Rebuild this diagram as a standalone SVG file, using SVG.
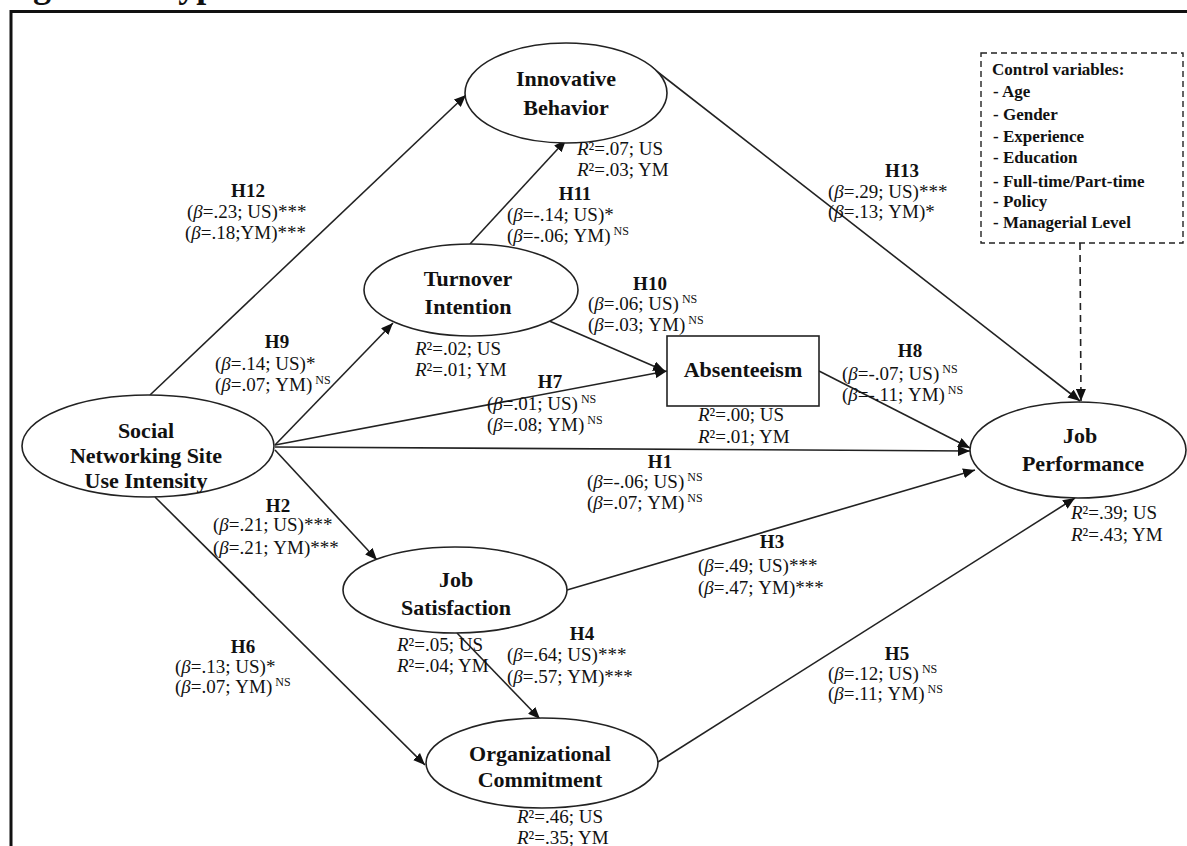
<svg xmlns="http://www.w3.org/2000/svg" width="1187" height="846" viewBox="0 0 1187 846">
<defs>
<marker id="ah" markerUnits="userSpaceOnUse" markerWidth="12" markerHeight="10" refX="12" refY="5" orient="auto">
<path d="M0,0 L12,5 L0,10 z" fill="#111"/>
</marker>
<style>
.node{fill:#fff;stroke:#222;stroke-width:1.6}
.nt{font-family:"Liberation Serif","Times New Roman",serif;font-weight:bold;font-size:22px;fill:#111;text-anchor:middle}
.lb{font-family:"Liberation Serif","Times New Roman",serif;font-size:19px;fill:#111}
.hb{font-family:"Liberation Serif","Times New Roman",serif;font-size:19px;font-weight:bold;fill:#111;text-anchor:middle}
.i{font-style:italic}
.sup{font-size:12px}
.cv{font-family:"Liberation Serif","Times New Roman",serif;font-size:17px;font-weight:bold;fill:#111}
.con{fill:none;stroke:#222;stroke-width:1.6;marker-end:url(#ah)}
</style>
</defs>
<rect width="1187" height="846" fill="#fff"/>
<text x="1" y="-3" font-family="Liberation Serif, serif" font-weight="bold" font-size="36" fill="#111">Figure 1: Hyp</text>
<path d="M11,846 V11.5 H1187" fill="none" stroke="#111" stroke-width="3"/>

<g id="connectors">
<line class="con" x1="150" y1="395" x2="466" y2="95"/>
<line class="con" x1="275" y1="445" x2="393" y2="323"/>
<line class="con" x1="275" y1="445" x2="667" y2="371"/>
<line class="con" x1="275" y1="447" x2="970" y2="451"/>
<line class="con" x1="275" y1="450" x2="377" y2="560"/>
<line class="con" x1="155" y1="497" x2="425" y2="765"/>
<line class="con" x1="470" y1="244" x2="566" y2="140"/>
<line class="con" x1="547" y1="320" x2="665" y2="371"/>
<line class="con" x1="819" y1="371" x2="970" y2="448"/>
<line class="con" x1="650" y1="66" x2="1080" y2="401"/>
<line class="con" x1="567" y1="590" x2="975" y2="470"/>
<line class="con" x1="457" y1="633" x2="540" y2="719"/>
<line class="con" x1="658" y1="762" x2="1075" y2="498"/>
<line class="con" x1="1080" y1="243" x2="1081" y2="401" stroke-dasharray="7,5"/>
</g>

<g id="innovative">
<ellipse class="node" cx="566" cy="93" rx="101" ry="50"/>
<text class="nt" x="566" y="86">Innovative</text>
<text class="nt" x="566" y="115">Behavior</text>
</g>
<g id="turnover">
<ellipse class="node" cx="471" cy="290" rx="107" ry="46"/>
<text class="nt" x="468" y="286">Turnover</text>
<text class="nt" x="468" y="314">Intention</text>
</g>
<g id="sns">
<ellipse class="node" cx="148" cy="446" rx="126" ry="51"/>
<text class="nt" x="146" y="438">Social</text>
<text class="nt" x="146" y="463">Networking Site</text>
<text class="nt" x="146" y="488">Use Intensity</text>
</g>
<g id="absenteeism">
<rect class="node" x="667" y="336" width="152" height="70"/>
<text class="nt" x="743" y="377">Absenteeism</text>
</g>
<g id="jobsat">
<ellipse class="node" cx="455" cy="590" rx="112" ry="43"/>
<text class="nt" x="456" y="587">Job</text>
<text class="nt" x="456" y="615">Satisfaction</text>
</g>
<g id="orgcom">
<ellipse class="node" cx="542" cy="763" rx="116" ry="45"/>
<text class="nt" x="540" y="761">Organizational</text>
<text class="nt" x="540" y="787">Commitment</text>
</g>
<g id="jobperf">
<ellipse class="node" cx="1078" cy="450" rx="108" ry="48"/>
<text class="nt" x="1080" y="443">Job</text>
<text class="nt" x="1083" y="471">Performance</text>
</g>
<g id="controls">
<rect x="981" y="53" width="202" height="190" fill="#fff" stroke="#222" stroke-width="1.4" stroke-dasharray="6,4"/>
<text class="cv" x="992" y="75">Control variables:</text>
<text class="cv" x="993" y="97">- Age</text>
<text class="cv" x="993" y="120">- Gender</text>
<text class="cv" x="993" y="142">- Experience</text>
<text class="cv" x="993" y="163">- Education</text>
<text class="cv" x="993" y="187">- Full-time/Part-time</text>
<text class="cv" x="993" y="207">- Policy</text>
<text class="cv" x="993" y="228">- Managerial Level</text>
</g>

<g id="labels">
<text class="hb" x="248" y="197">H12</text>
<text class="lb" x="187" y="218">(<tspan class="i">β</tspan>=.23; US)***</text>
<text class="lb" x="185" y="239">(<tspan class="i">β</tspan>=.18;YM)***</text>

<text class="lb" x="577" y="155"><tspan class="i">R</tspan>²=.07; US</text>
<text class="lb" x="577" y="176"><tspan class="i">R</tspan>²=.03; YM</text>

<text class="hb" x="575" y="200">H11</text>
<text class="lb" x="507" y="221">(<tspan class="i">β</tspan>=-.14; US)*</text>
<text class="lb" x="507" y="242">(<tspan class="i">β</tspan>=-.06; YM)<tspan class="sup" dy="-7"> NS</tspan></text>

<text class="hb" x="902" y="177">H13</text>
<text class="lb" x="828" y="198">(<tspan class="i">β</tspan>=.29; US)***</text>
<text class="lb" x="828" y="218">(<tspan class="i">β</tspan>=.13; YM)*</text>

<text class="hb" x="650" y="290">H10</text>
<text class="lb" x="588" y="310">(<tspan class="i">β</tspan>=.06; US)<tspan class="sup" dy="-7"> NS</tspan></text>
<text class="lb" x="588" y="331">(<tspan class="i">β</tspan>=.03; YM)<tspan class="sup" dy="-7"> NS</tspan></text>

<text class="hb" x="277" y="348">H9</text>
<text class="lb" x="215" y="370">(<tspan class="i">β</tspan>=.14; US)*</text>
<text class="lb" x="215" y="391">(<tspan class="i">β</tspan>=.07; YM)<tspan class="sup" dy="-7"> NS</tspan></text>

<text class="lb" x="415" y="355"><tspan class="i">R</tspan>²=.02; US</text>
<text class="lb" x="415" y="376"><tspan class="i">R</tspan>²=.01; YM</text>

<text class="hb" x="550" y="388">H7</text>
<text class="lb" x="487" y="410">(<tspan class="i">β</tspan>=.01; US)<tspan class="sup" dy="-7"> NS</tspan></text>
<text class="lb" x="487" y="431">(<tspan class="i">β</tspan>=.08; YM)<tspan class="sup" dy="-7"> NS</tspan></text>

<text class="lb" x="698" y="421"><tspan class="i">R</tspan>²=.00; US</text>
<text class="lb" x="698" y="443"><tspan class="i">R</tspan>²=.01; YM</text>

<text class="hb" x="910" y="357">H8</text>
<text class="lb" x="842" y="380">(<tspan class="i">β</tspan>=-.07; US)<tspan class="sup" dy="-7"> NS</tspan></text>
<text class="lb" x="842" y="401">(<tspan class="i">β</tspan>=-.11; YM)<tspan class="sup" dy="-7"> NS</tspan></text>

<text class="hb" x="660" y="468">H1</text>
<text class="lb" x="587" y="488">(<tspan class="i">β</tspan>=-.06; US)<tspan class="sup" dy="-7"> NS</tspan></text>
<text class="lb" x="587" y="509">(<tspan class="i">β</tspan>=.07; YM)<tspan class="sup" dy="-7"> NS</tspan></text>

<text class="lb" x="1071" y="519"><tspan class="i">R</tspan>²=.39; US</text>
<text class="lb" x="1071" y="541"><tspan class="i">R</tspan>²=.43; YM</text>

<text class="hb" x="278" y="512">H2</text>
<text class="lb" x="213" y="531">(<tspan class="i">β</tspan>=.21; US)***</text>
<text class="lb" x="213" y="554">(<tspan class="i">β</tspan>=.21; YM)***</text>

<text class="hb" x="772" y="548">H3</text>
<text class="lb" x="698" y="572">(<tspan class="i">β</tspan>=.49; US)***</text>
<text class="lb" x="698" y="594">(<tspan class="i">β</tspan>=.47; YM)***</text>

<text class="hb" x="243" y="653">H6</text>
<text class="lb" x="175" y="673">(<tspan class="i">β</tspan>=.13; US)*</text>
<text class="lb" x="175" y="693">(<tspan class="i">β</tspan>=.07; YM)<tspan class="sup" dy="-7"> NS</tspan></text>

<text class="lb" x="397" y="651"><tspan class="i">R</tspan>²=.05; US</text>
<text class="lb" x="397" y="672"><tspan class="i">R</tspan>²=.04; YM</text>

<text class="hb" x="582" y="640">H4</text>
<text class="lb" x="507" y="661">(<tspan class="i">β</tspan>=.64; US)***</text>
<text class="lb" x="507" y="683">(<tspan class="i">β</tspan>=.57; YM)***</text>

<text class="hb" x="897" y="660">H5</text>
<text class="lb" x="828" y="680">(<tspan class="i">β</tspan>=.12; US)<tspan class="sup" dy="-7"> NS</tspan></text>
<text class="lb" x="828" y="700">(<tspan class="i">β</tspan>=.11; YM)<tspan class="sup" dy="-7"> NS</tspan></text>

<text class="lb" x="517" y="823"><tspan class="i">R</tspan>²=.46; US</text>
<text class="lb" x="517" y="844"><tspan class="i">R</tspan>²=.35; YM</text>
</g>
</svg>
